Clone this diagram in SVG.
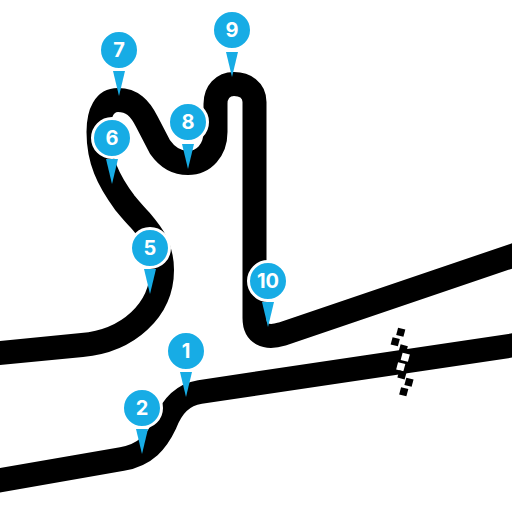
<svg xmlns="http://www.w3.org/2000/svg" width="512" height="512" viewBox="0 0 512 512">
<style>
.track{fill:none;stroke:#000;stroke-width:24}
.c{fill:#17ace5;stroke:#fff;stroke-width:3}
.t{fill:#17ace5}
.l{fill:#fff;font-family:"Inter","Liberation Sans",sans-serif;font-weight:700;font-size:20px;text-anchor:middle}
.k{fill:#000}.w{fill:#fff}
</style>
<rect width="512" height="512" fill="#fff"/>
<g id="connectors">
<path class="track" d="M-10 482L122 459C146 455 157 441 165 424C172 406 182 395 200 392L522 344"/>
<path class="track" d="M522 252.600L282 334C266 339 254.500 334 254.500 318V102C254.500 90 245 84 234 84C223 84 215.500 92 215.500 104V132C215.500 150 204 163 188 163C176 163 167 157 160 147L147 122C140 108 132 100 118 100C105 100 98.500 112 98.500 132C98.500 160 108 180 125 203C130 209 135 215 140 220C150 232 162 245 162 270C162 310 128 341 82 345L-10 354"/>
</g>
<g id="finish">
<rect class="k" x="397" y="328.500" width="7.500" height="7.500" transform="rotate(15 400.700 332.300)"/>
<rect class="k" x="391.500" y="338" width="7.500" height="7.500" transform="rotate(15 395.300 341.700)"/>
<rect class="k" x="399.500" y="345.200" width="7.500" height="7.500" transform="rotate(15 403.300 349)"/>
<rect class="w" x="401.500" y="353.500" width="7.500" height="7.500" transform="rotate(15 405.300 357.300)"/>
<rect class="w" x="397" y="363" width="7.500" height="7.500" transform="rotate(15 400.700 366.700)"/>
<rect class="k" x="398.200" y="371.200" width="7.500" height="7.500" transform="rotate(15 402 375)"/>
<rect class="k" x="405.200" y="378.500" width="7.500" height="7.500" transform="rotate(15 409 382.300)"/>
<rect class="k" x="400" y="388" width="7.500" height="7.500" transform="rotate(15 403.700 391.700)"/>
</g>
<g id="pin1"><circle class="c" cx="186" cy="351" r="19.500"/><path class="t" d="M180 372H192L186 397Z"/><text class="l" x="186" y="358">1</text></g>
<g id="pin2"><circle class="c" cx="142" cy="408" r="19.500"/><path class="t" d="M136 429H148L142 454Z"/><text class="l" x="142" y="415">2</text></g>
<g id="pin5"><circle class="c" cx="150" cy="248" r="19.500"/><path class="t" d="M144 269H156L150 294Z"/><text class="l" x="150" y="255">5</text></g>
<g id="pin6"><circle class="c" cx="112" cy="138" r="19.500"/><path class="t" d="M106 159H118L112 184Z"/><text class="l" x="112" y="145">6</text></g>
<g id="pin7"><circle class="c" cx="119" cy="50" r="19.500"/><path class="t" d="M113 71H125L119 96Z"/><text class="l" x="119" y="57">7</text></g>
<g id="pin8"><circle class="c" cx="188" cy="122" r="19.500"/><path class="t" d="M182 144H194L188 169Z"/><text class="l" x="188" y="129">8</text></g>
<g id="pin9"><circle class="c" cx="232" cy="30" r="19.500"/><path class="t" d="M226 52H238L232 77Z"/><text class="l" x="232" y="37">9</text></g>
<g id="pin10"><circle class="c" cx="268" cy="281" r="19.500"/><path class="t" d="M262 302H274L268 327Z"/><text class="l" x="268" y="288">10</text></g>
</svg>
